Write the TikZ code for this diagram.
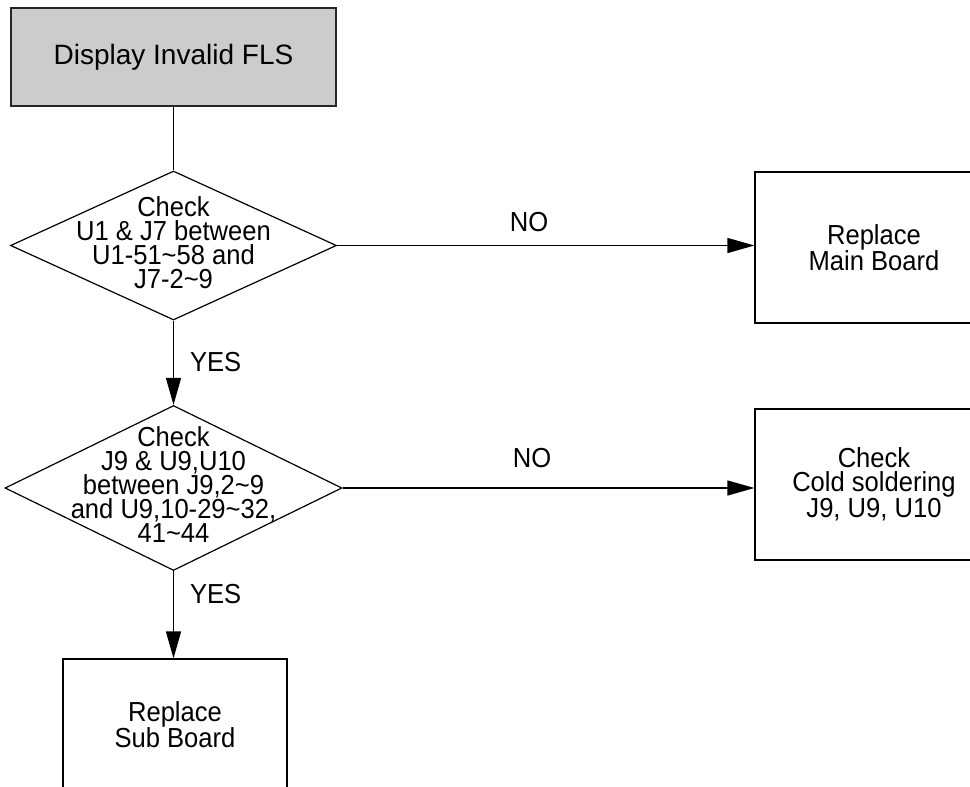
\documentclass[tikz,border=0pt]{standalone}
\usepackage{fontspec}
\setmainfont{Liberation Sans}[FakeStretch=0.93]
\newfontfamily\titlefont{Liberation Sans}
\usepackage{tikz}
\usetikzlibrary{shapes.geometric, arrows.meta}
\tikzset{
	flownode/.style = {align=center, inner sep=0pt, text centered, font=\fontsize{27.5}{24}\selectfont},
	stepbox/.style = {flownode, rectangle, draw=black, line width=1.2pt, minimum width=238pt, minimum height=151pt},
	decision/.style = {diamond, draw=black, line width=1.2pt, inner sep=0pt},
	startbox/.style = {flownode, rectangle, draw=black!85, line width=2.6pt, fill=boxgray, minimum width=325pt, minimum height=98pt, font=\titlefont\fontsize{28}{30}\selectfont},
	flowlabel/.style = {font=\fontsize{27.5}{24}\selectfont, inner sep=0pt},
	>={Triangle[length=27pt, width=15pt]},
}
\definecolor{boxgray}{rgb}{0.8, 0.8, 0.8}

\begin{document}
\begin{tikzpicture}[x=1pt, y=-1pt, line width=1.2pt]
	\useasboundingbox (0,0) rectangle (970,787);
	\clip (0,0) rectangle (970,787);

	\node[startbox] (fls) at (173.5, 57) {Display Invalid FLS};

	\node[decision, minimum width=326pt, minimum height=149pt] (chk1) at (173.5, 245.5) {};
	\node[flownode] (chk1txt) at (173.5, 243) {Check\\U1 \& J7 between\\U1-51\textasciitilde58 and\\J7-2\textasciitilde9};

	\node[decision, minimum width=337pt, minimum height=165pt] (chk2) at (173.5, 488) {};
	\node[flownode] (chk2txt) at (173.5, 485) {Check\\J9 \& U9,U10\\between J9,2\textasciitilde9\\and U9,10-29\textasciitilde32,\\41\textasciitilde44};

	\node[stepbox] (main) at (874, 247.5) {Replace\\Main Board};
	\node[stepbox] (cold) at (874, 484.5) {Check\\Cold soldering\\J9, U9, U10};
	\node[stepbox, minimum width=224pt, minimum height=131pt] (sub) at (175, 724.5) {Replace\\Sub Board};

	\path (fls) edge (chk1.north);
	\path (chk1.east) edge[->] node[flowlabel, above=13pt, pos=0.46]{NO} (chk1.east -| main.west);
	\path (chk1.south) edge[->] node[flowlabel, right=16pt, pos=0.49]{YES} (chk2.north);
	\path (chk2.east) edge[->] node[flowlabel, above=20pt, pos=0.46]{NO} (chk2.east -| cold.west);
	\path (chk2.south) edge[->] node[flowlabel, right=16pt, pos=0.26]{YES} (chk2.south |- sub.north);
\end{tikzpicture}
\end{document}
